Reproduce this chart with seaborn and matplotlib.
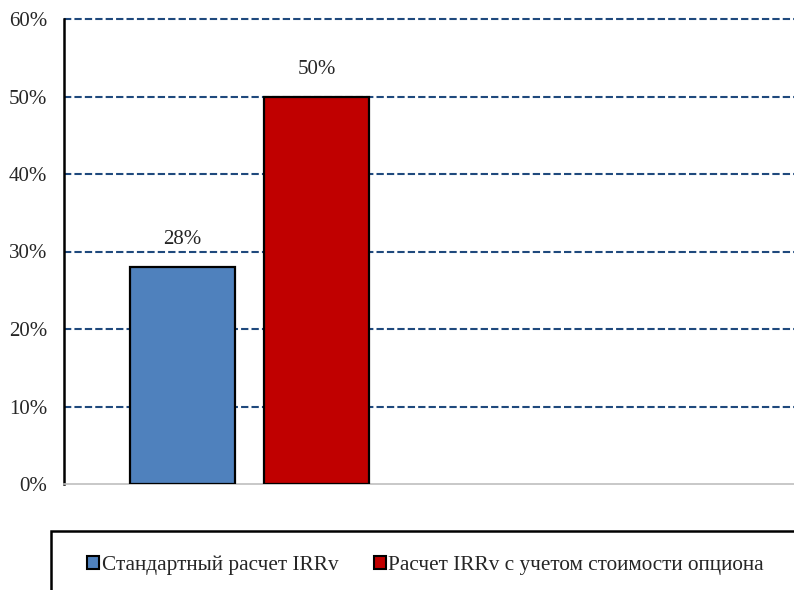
import matplotlib
matplotlib.use('Agg')
import matplotlib.pyplot as plt
import seaborn as sns
import pandas as pd
from matplotlib.patches import Patch, Rectangle
from matplotlib.ticker import PercentFormatter

# Data
series = ['Стандартный расчет IRRv', 'Расчет IRRv с учетом стоимости опциона']
values = [28, 50]
colors = ['#4F81BD', '#C00000']
y_ticks = [0, 10, 20, 30, 40, 50, 60]

sns.set_style('white')
plt.rcParams['font.family'] = ['Liberation Serif', 'DejaVu Serif']

df = pd.DataFrame({'series': series, 'value': values})

fig = plt.figure(figsize=(7.94, 5.90), dpi=100)
ax = fig.add_axes([64 / 794, 106 / 590, 730 / 794, 465 / 590])

sns.barplot(data=df, x='series', y='value', hue='series', palette=colors, saturation=1,
            width=0.78, edgecolor='black', linewidth=1.6, legend=False, ax=ax, zorder=3)

ax.set_xlim(-0.884, 4.56)
ax.set_ylim(0, 60)
ax.set_yticks(y_ticks)
ax.yaxis.set_major_formatter(PercentFormatter(decimals=0))
ax.set_xticks([])
ax.set_xlabel('')
ax.set_ylabel('')
ax.tick_params(axis='y', labelsize=15, length=0, pad=12)

# gridlines
for t in y_ticks[1:]:
    ax.axhline(t, color='#1F497D', linestyle=(0, (3.5, 1.5)), linewidth=1.5, zorder=1, clip_on=False)

for s in ['top', 'right']:
    ax.spines[s].set_visible(False)
ax.spines['left'].set_color('black')
ax.spines['left'].set_linewidth(1.8)
ax.spines['bottom'].set_color('#BFBFBF')
ax.spines['bottom'].set_linewidth(1.2)

# value labels
for i, v in enumerate(values):
    ax.text(i, v + 3.5, f'{v}%', ha='center', va='center', fontsize=15)

# legend box
fig.patches.append(Rectangle((51 / 794, -0.05), 1.0, (590 - 531) / 590 + 0.05,
                             transform=fig.transFigure, facecolor='white',
                             edgecolor='black', linewidth=1.8, clip_on=False))
handles = [Patch(facecolor=c, edgecolor='black', linewidth=1.5) for c in colors]
fig.legend(handles, series, loc='center left', bbox_to_anchor=(87 / 794, 1 - 565 / 590),
           ncol=2, frameon=False, fontsize=15.3, handlelength=0.58, handleheight=0.58,
           handletextpad=0.12, columnspacing=1.65, borderpad=0, borderaxespad=0)

fig.savefig('out.png', dpi=100)
